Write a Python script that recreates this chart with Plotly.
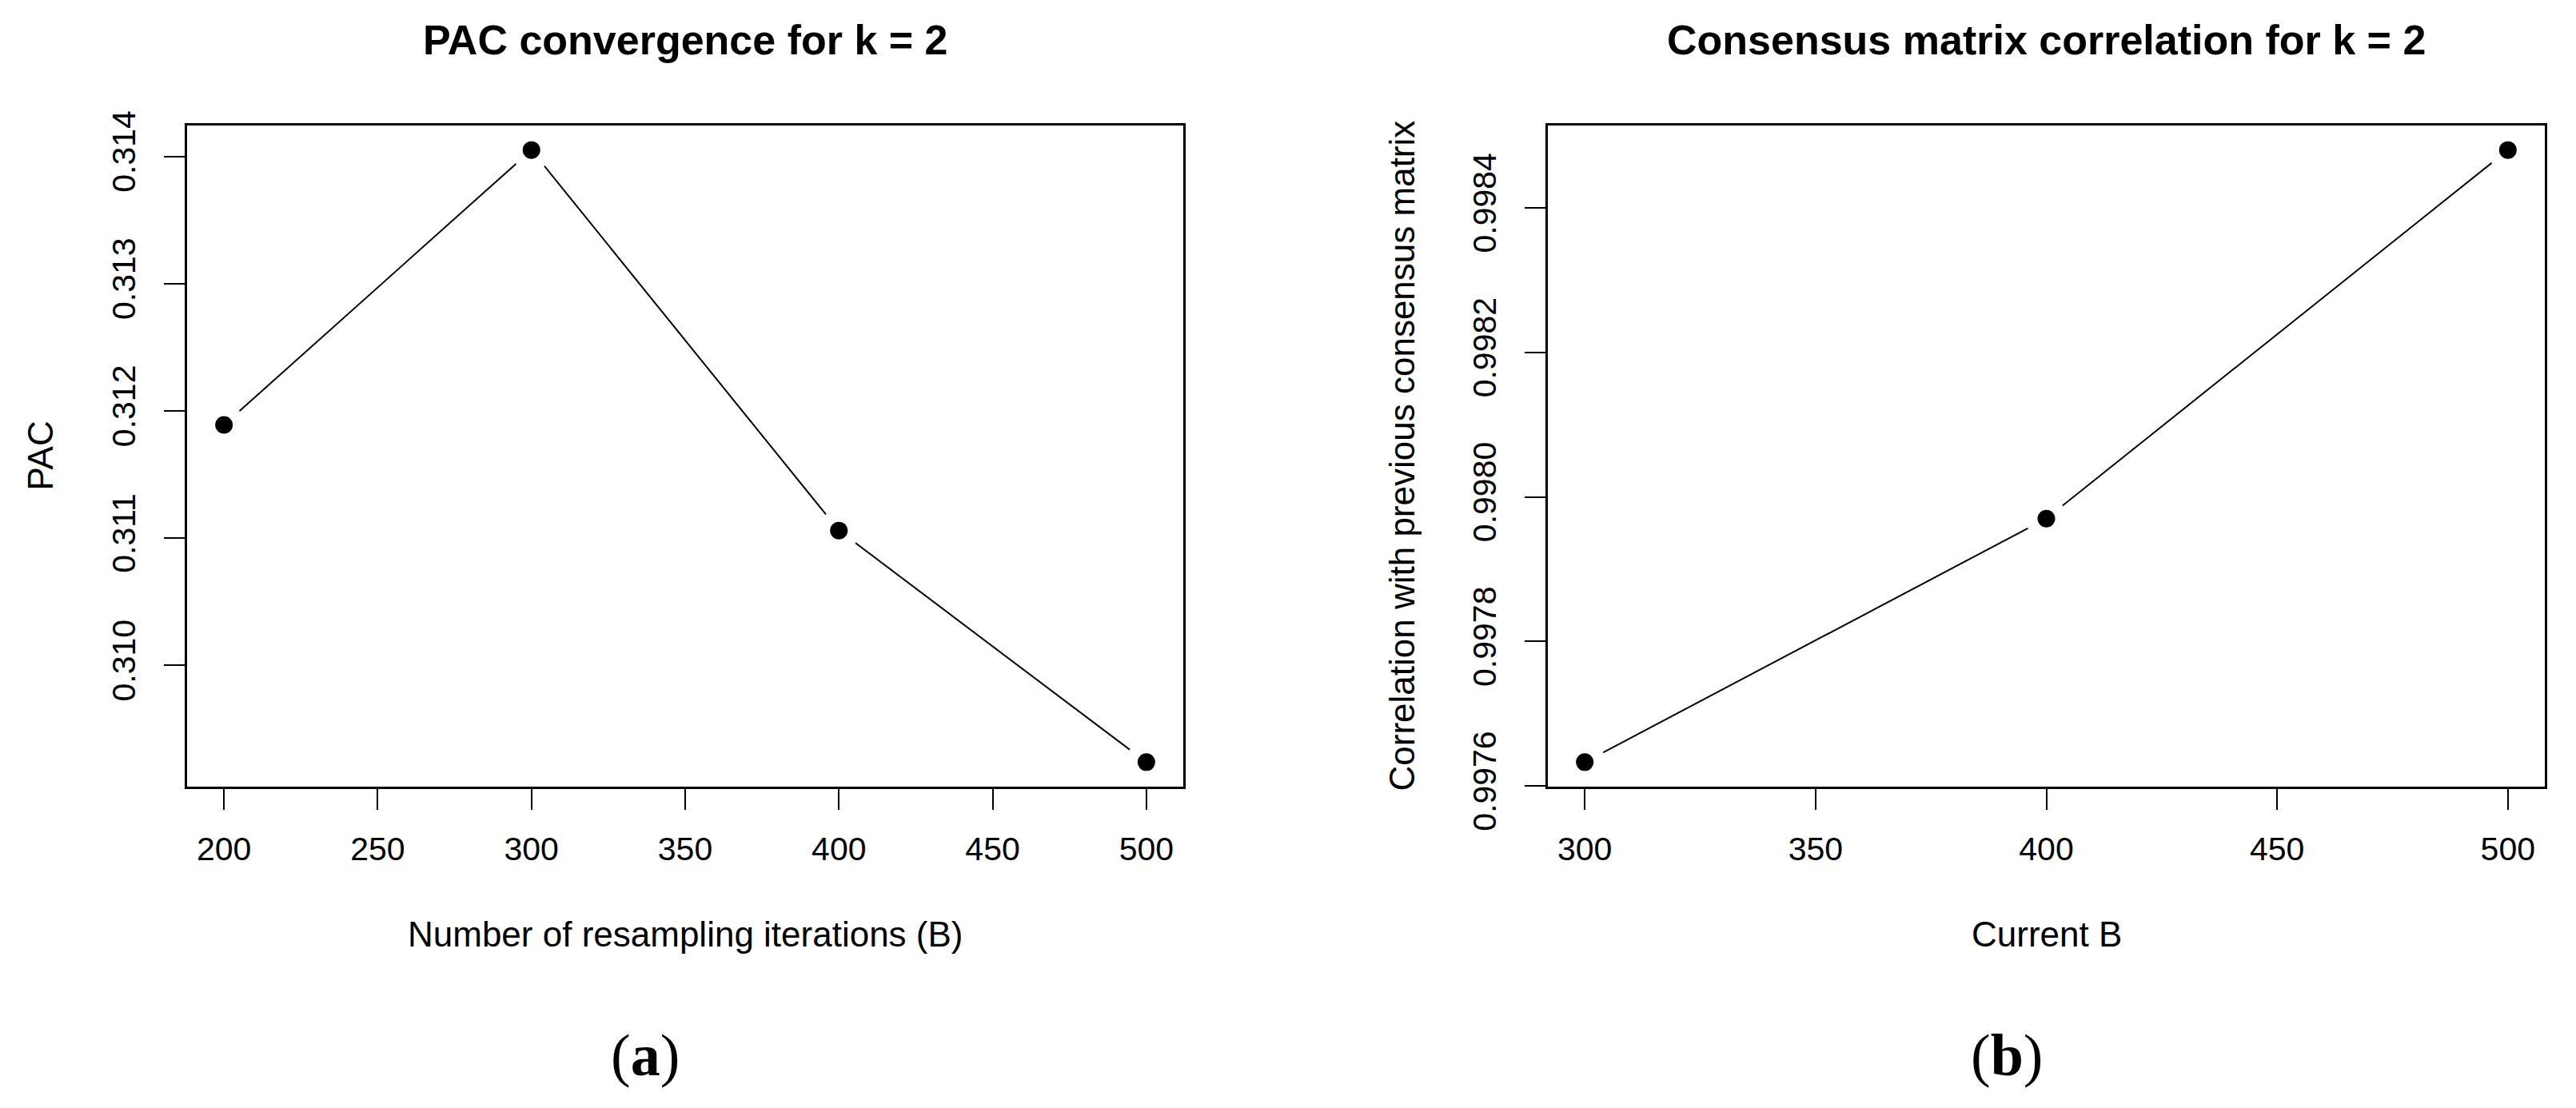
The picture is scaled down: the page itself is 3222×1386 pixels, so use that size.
"""Two R-style base-graphics panels: PAC convergence and consensus matrix correlation."""
import plotly.graph_objects as go
from plotly.subplots import make_subplots

# Panel (a): PAC against number of resampling iterations
pac_b = [200, 300, 400, 500]
pac_values = [0.31189, 0.31405, 0.31106, 0.30924]

# Panel (b): correlation with previous consensus matrix
corr_b = [300, 400, 500]
corr_values = [0.997633, 0.99797, 0.99848]

titles = ["PAC convergence for k = 2", "Consensus matrix correlation for k = 2"]
x_titles = ["Number of resampling iterations (B)", "Current B"]
y_titles = ["PAC", "Correlation with previous consensus matrix"]
panel_tags = ["(<b>a</b>)", "(<b>b</b>)"]

W, H = 3222, 1386
SANS = "Liberation Sans, Arial, sans-serif"
SERIF = "Liberation Serif, Times New Roman, serif"


def r_range(vals: list) -> list:
    """ R's default axis range: data range stretched by 4% on each side."""
    lo, hi = min(vals), max(vals)
    pad = (hi - lo) * 0.04
    return [lo - pad, hi + pad]


fig = make_subplots(rows=1, cols=2)

for col, (xs, ys) in enumerate([(pac_b, pac_values), (corr_b, corr_values)], start=1):
    # white marker outline imitates the gaps of R's type = "b"
    fig.add_trace(go.Scatter(x=xs, y=ys, mode="lines+markers",
                             line=dict(color="black", width=2),
                             marker=dict(color="black", size=37, symbol="circle",
                                         line=dict(color="white", width=15)),
                             showlegend=False, hoverinfo="skip"),
                  row=1, col=col)

x_doms = [[234 / W, 1480 / W], [1936 / W, 3183 / W]]
y_dom = [1 - 984 / H, 1 - 157 / H]

axis_common = dict(showline=True, linecolor="black", linewidth=3, mirror=True,
                   ticks="outside", ticklen=26, tickwidth=2, tickcolor="black",
                   showgrid=False, zeroline=False, automargin=False,
                   tickfont=dict(family=SANS, size=41, color="black"))

fig.update_layout(
    xaxis=dict(domain=x_doms[0], range=r_range(pac_b), tick0=200, dtick=50,
               ticklabelstandoff=14, **axis_common),
    yaxis=dict(domain=y_dom, range=r_range(pac_values), tick0=0.310, dtick=0.001,
               tickformat=".3f", tickangle=-90, ticklabelstandoff=20, **axis_common),
    xaxis2=dict(domain=x_doms[1], range=r_range(corr_b), tick0=300, dtick=50,
                ticklabelstandoff=14, **axis_common),
    yaxis2=dict(domain=y_dom, range=r_range(corr_values), tick0=0.9976, dtick=0.0002,
                tickformat=".4f", tickangle=-90, ticklabelstandoff=20, **axis_common),
)

annotations = []
tag_x = [807, 2510]
y_title_x = [50, 1753]
for i in range(2):
    mid = (x_doms[i][0] + x_doms[i][1]) / 2
    annotations.append(dict(text="<b>" + titles[i] + "</b>", x=mid, y=1 - 50 / H,
                            xref="paper", yref="paper", showarrow=False,
                            xanchor="center", yanchor="middle",
                            font=dict(family=SANS, size=52, color="black")))
    annotations.append(dict(text=x_titles[i], x=mid, y=1 - 1168 / H,
                            xref="paper", yref="paper", showarrow=False,
                            xanchor="center", yanchor="middle",
                            font=dict(family=SANS, size=44, color="black")))
    annotations.append(dict(text=y_titles[i], x=y_title_x[i] / W, y=sum(y_dom) / 2,
                            xref="paper", yref="paper", showarrow=False, textangle=-90,
                            xanchor="center", yanchor="middle",
                            font=dict(family=SANS, size=44, color="black")))
    annotations.append(dict(text=panel_tags[i], x=tag_x[i] / W, y=1 - 1320 / H,
                            xref="paper", yref="paper", showarrow=False,
                            xanchor="center", yanchor="middle",
                            font=dict(family=SERIF, size=74, color="black")))

fig.update_layout(width=W, height=H, margin=dict(l=0, r=0, t=0, b=0, autoexpand=False),
                  paper_bgcolor="white", plot_bgcolor="white",
                  annotations=annotations)

# the page body's default 8px margin would push the figure off its spot
fig.write_html("out.html", config={"displayModeBar": False},
               post_script="document.body.style.margin = '0';")
